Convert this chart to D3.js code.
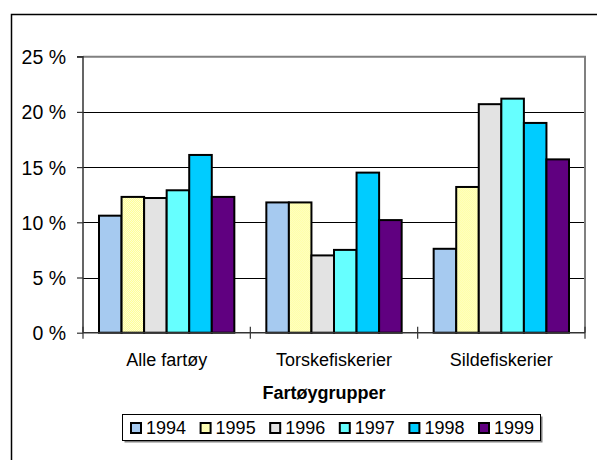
<!DOCTYPE html>
<html>
<head>
<meta charset="utf-8">
<script src="https://cdn.jsdelivr.net/npm/d3@7"></script>
<style>
  html, body { margin: 0; padding: 0; background: #fff; }
  svg { display: block; font-family: Arial, "Liberation Sans", sans-serif; }
</style>
</head>
<body>
<svg id="chart" width="597" height="460"></svg>
<script>
const categories = ["Alle fartøy", "Torskefiskerier", "Sildefiskerier"];
const years = ["1994", "1995", "1996", "1997", "1998", "1999"];
const v1994 = [10.6, 11.8, 7.6];
const v1995 = [12.3, 11.8, 13.2];
const v1996 = [12.2, 7.0, 20.7];
const v1997 = [12.9, 7.5, 21.2];
const v1998 = [16.1, 14.5, 19.0];
const v1999 = [12.3, 10.2, 15.7];
const yTicks = [0, 5, 10, 15, 20, 25];
const yTickLabels = ["0 %", "5 %", "10 %", "15 %", "20 %", "25 %"];
const axisTitle = "Fartøygrupper";

const seriesValues = [v1994, v1995, v1996, v1997, v1998, v1999];
const colors = ["#A6CAF0", "url(#dither)", "#E3E3E3", "#66FFFF", "#00CCFF", "#600080"];

const svg = d3.select("#chart");
const defs = svg.append("defs");
const pat = defs.append("pattern").attr("id", "dither").attr("patternUnits", "userSpaceOnUse")
  .attr("width", 2).attr("height", 2);
pat.append("rect").attr("width", 2).attr("height", 2).attr("fill", "#FFFFD0");
pat.append("rect").attr("width", 1).attr("height", 1).attr("fill", "#FFFF99");
pat.append("rect").attr("x", 1).attr("y", 1).attr("width", 1).attr("height", 1).attr("fill", "#FFFF99");

// outer chart frame
svg.append("rect").attr("x", 11.5).attr("y", 14.5).attr("width", 700).attr("height", 600)
  .attr("fill", "none").attr("stroke", "#000").attr("stroke-width", 1.5);

const pLeft = 83, pRight = 585, pTop = 56.7, pBottom = 332.7;
const y = d3.scaleLinear().domain([0, 25]).range([pBottom, pTop]);
const x0 = d3.scaleBand().domain(categories).range([pLeft, pRight]).paddingInner(0).paddingOuter(0);
const x1 = d3.scaleBand().domain(years).range([16, x0.bandwidth() - 16]).padding(0);

// gridlines
svg.append("g").selectAll("line").data(yTicks.filter(t => t > 0 && t < 25)).join("line")
  .attr("x1", pLeft).attr("x2", pRight)
  .attr("y1", d => Math.round(y(d)) + 0.5).attr("y2", d => Math.round(y(d)) + 0.5)
  .attr("stroke", "#000").attr("stroke-width", 1);

// plot border top & right
svg.append("path")
  .attr("d", `M${pLeft},${y(25)}H${pRight}V${pBottom}`)
  .attr("fill", "none").attr("stroke", "#808080").attr("stroke-width", 2);

// bars
const groups = svg.append("g").selectAll("g").data(categories).join("g")
  .attr("transform", d => `translate(${x0(d)},0)`);
groups.selectAll("rect").data((c, ci) => years.map((yr, si) => ({ yr, si, v: seriesValues[si][ci] })))
  .join("rect")
  .attr("x", d => x1(d.yr))
  .attr("y", d => y(d.v))
  .attr("width", x1.bandwidth())
  .attr("height", d => pBottom - y(d.v))
  .attr("fill", d => colors[d.si])
  .attr("stroke", "#000").attr("stroke-width", 2);

// y axis
const yAxis = d3.axisLeft(y).tickValues(yTicks).tickSize(6).tickFormat((d, i) => yTickLabels[i]);
const gy = svg.append("g").attr("transform", `translate(${pLeft},0)`).call(yAxis);
gy.select(".domain").attr("stroke", "#333").attr("stroke-width", 1.5).attr("d", `M-6,${pTop}H0V${pBottom}`);
gy.selectAll(".tick line").attr("stroke", "#333").attr("stroke-width", 1.2);
gy.selectAll(".tick text").attr("x", -17).attr("dy", "0.36em")
  .attr("font-size", 19.5).attr("fill", "#000").attr("font-family", "Arial, 'Liberation Sans', sans-serif");

// x axis
const gx = svg.append("g").attr("transform", `translate(0,${pBottom})`);
gx.append("line").attr("x1", pLeft).attr("x2", pRight).attr("y1", 0).attr("y2", 0)
  .attr("stroke", "#333").attr("stroke-width", 1.5);
const boundaries = categories.map(c => x0(c)).concat([pRight]);
gx.selectAll("line.t").data(boundaries).join("line").attr("class", "t")
  .attr("x1", d => d).attr("x2", d => d).attr("y1", -6).attr("y2", 6)
  .attr("stroke", "#333").attr("stroke-width", 1.2);
gx.selectAll("text").data(categories).join("text")
  .attr("x", d => x0(d) + x0.bandwidth() / 2).attr("y", 33.5)
  .attr("text-anchor", "middle").attr("font-size", 18).attr("fill", "#000")
  .text(d => d);

svg.append("text").attr("x", 324).attr("y", 399).attr("text-anchor", "middle")
  .attr("font-size", 18).attr("font-weight", "bold").text(axisTitle);

// legend
const lgX = 122.5, lgY = 414.5, lgW = 418, lgH = 26;
svg.append("rect").attr("x", lgX + 2).attr("y", lgY + 2).attr("width", lgW).attr("height", lgH).attr("fill", "#808080");
svg.append("rect").attr("x", lgX).attr("y", lgY).attr("width", lgW).attr("height", lgH)
  .attr("fill", "#fff").attr("stroke", "#000").attr("stroke-width", 1);
const lgItems = svg.append("g").selectAll("g").data(years).join("g")
  .attr("transform", (d, i) => `translate(${131 + i * 69.6},0)`);
lgItems.append("rect").attr("x", 0).attr("y", 423).attr("width", 10).attr("height", 10)
  .attr("fill", (d, i) => colors[i]).attr("stroke", "#000").attr("stroke-width", 2);
lgItems.append("text").attr("x", 15).attr("y", 434).attr("font-size", 18).attr("fill", "#000").text(d => d);
</script>
</body>
</html>
